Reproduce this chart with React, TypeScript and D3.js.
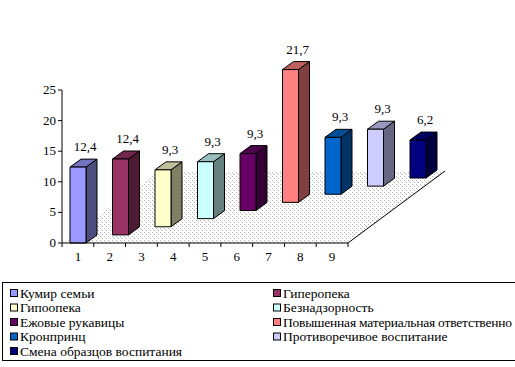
import React from 'react';
import * as d3 from 'd3';

const seriesNames = [
  'Кумир семьи',
  'Гиперопека',
  'Гипоопека',
  'Безнадзорность',
  'Ежовые рукавицы',
  'Повышенная материальная ответственно',
  'Кронпринц',
  'Противоречивое воспитание',
  'Смена образцов воспитания',
];
const seriesValues = [12.4, 12.4, 9.3, 9.3, 9.3, 21.7, 9.3, 9.3, 6.2];
const valueLabels = ['12,4', '12,4', '9,3', '9,3', '9,3', '21,7', '9,3', '9,3', '6,2'];
const seriesColors = ['#9999FF', '#993366', '#FFFFCC', '#CCFFFF', '#660066', '#FF8080', '#0066CC', '#CCCCFF', '#000080'];
const categoryTicks = ['1', '2', '3', '4', '5', '6', '7', '8', '9'];
const yTicks = [0, 5, 10, 15, 20, 25];

const W = 515;
const H = 367;
const FONT = 'Liberation Serif';

// front plane
const y = d3.scaleLinear().domain([0, 25]).range([243, 90]);
const x = d3.scaleBand().domain(categoryTicks).range([62, 348]);
// series are placed in depth
const depthX = d3.scaleLinear().domain([0, seriesValues.length - 1]).range([70, 410]);
const depthY = d3.scaleLinear().domain([0, seriesValues.length - 1]).range([0, -65]);
const floorDx = 97;
const floorDy = -72;
const barW = 16;
const sideDx = 11;
const sideDy = -8;

const shade = (c: string, k: number) => {
  const col = d3.rgb(c);
  return d3.rgb(col.r * k, col.g * k, col.b * k).formatHex();
};

export default function App() {
  const x0 = x.range()[0];
  const x1 = x.range()[1];
  const y0 = y(0);

  const bars = seriesValues.map((v, i) => {
    const left = depthX(i);
    const bottom = y0 + depthY(i);
    const top = bottom - (y0 - y(v));
    const right = left + barW;
    const front = `M${left},${top}H${right}V${bottom}H${left}Z`;
    const side = `M${right},${top}L${right + sideDx},${top + sideDy}V${bottom + sideDy}L${right},${bottom}Z`;
    const lid = `M${left},${top}L${left + sideDx},${top + sideDy}H${right + sideDx}L${right},${top}Z`;
    return { i, left, top, front, side, lid, color: seriesColors[i] };
  });

  return (
    <svg
      width={W}
      height={H}
      style={{ position: 'absolute', left: 0, top: 0, background: '#fff', fontFamily: FONT, fontSize: 12 }}
    >
      <defs>
        <pattern id="floorDots" width="4" height="4" patternUnits="userSpaceOnUse">
          <rect width="4" height="4" fill="#ffffff" />
          <rect x="0" y="0" width="1" height="1" fill="#b4b4b4" />
          <rect x="2" y="2" width="1" height="1" fill="#b4b4b4" />
          <rect x="1" y="1" width="1" height="1" fill="#dcdcdc" />
        </pattern>
      </defs>

      {/* floor */}
      <path
        d={`M${x0},${y0}H${x1}L${x1 + floorDx},${y0 + floorDy}H${x0 + floorDx}Z`}
        fill="url(#floorDots)"
      />
      <line x1={x1} y1={y0} x2={x1 + floorDx} y2={y0 + floorDy} stroke="#000" />

      {/* bars, back to front */}
      {bars
        .slice()
        .reverse()
        .map(b => (
          <g key={b.i} stroke="#000" strokeWidth={1}>
            <path d={b.side} fill={shade(b.color, 0.5)} />
            <path d={b.lid} fill={shade(b.color, 0.75)} />
            <path d={b.front} fill={b.color} />
          </g>
        ))}

      {/* value labels */}
      {bars.map(b => (
        <text key={`l${b.i}`} x={b.left + barW / 2 + 7} y={b.top + sideDy - 8} textAnchor="middle" fontSize={13}>
          {valueLabels[b.i]}
        </text>
      ))}

      {/* y axis */}
      <line x1={x0} y1={y(25)} x2={x0} y2={y0} stroke="#000" />
      {yTicks.map(t => (
        <g key={`y${t}`}>
          <line x1={x0 - 4} x2={x0} y1={y(t)} y2={y(t)} stroke="#000" />
          <text x={x0 - 6} y={y(t) + 4} textAnchor="end" fontSize={13}>
            {t}
          </text>
        </g>
      ))}

      {/* x axis */}
      <line x1={x0} y1={y0} x2={x1} y2={y0} stroke="#000" />
      {categoryTicks.map(c => (
        <line key={`t${c}`} x1={x(c)!} x2={x(c)!} y1={y0} y2={y0 + 4} stroke="#000" />
      ))}
      <line x1={x1} x2={x1} y1={y0} y2={y0 + 4} stroke="#000" />
      {categoryTicks.map(c => (
        <text key={`c${c}`} x={x(c)! + x.bandwidth() / 2} y={y0 + 18} textAnchor="middle" fontSize={13}>
          {c}
        </text>
      ))}

      {/* legend */}
      <rect x={2.5} y={282.5} width={600} height={78} fill="#fff" stroke="#000" />
      {seriesNames.map((name, i) => {
        const col = i % 2;
        const row = Math.floor(i / 2);
        const lx = col === 0 ? 10 : 273;
        const ly = 293 + row * 14.5;
        return (
          <g key={`lg${i}`}>
            <rect x={lx + 0.5} y={ly - 3.5} width={7} height={7} fill={seriesColors[i]} stroke="#000" />
            <text x={lx + 10} y={ly + 4.5} fontSize={13.5} textLength={i === 5 ? 229 : undefined}>
              {name}
            </text>
          </g>
        );
      })}
    </svg>
  );
}
